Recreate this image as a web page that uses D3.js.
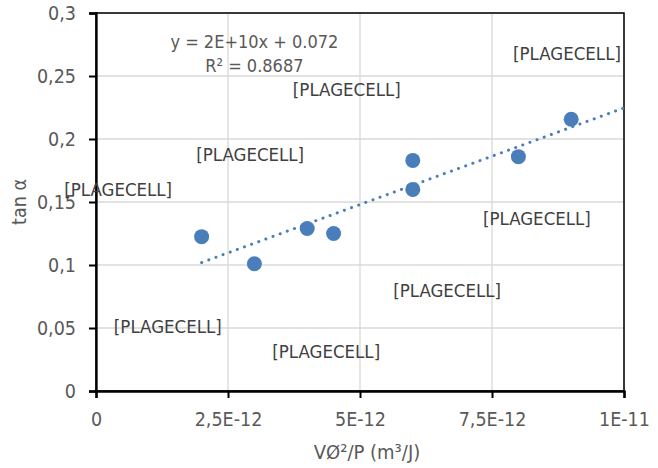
<!DOCTYPE html>
<html>
<head>
<meta charset="utf-8">
<script src="https://cdn.jsdelivr.net/npm/d3@7"></script>
<style>
  body { margin: 0; background: #fff; }
  text { font-family: "Liberation Sans Narrow", "DejaVu Sans Condensed", "Liberation Sans", sans-serif; }
</style>
</head>
<body>
<div id="chart"></div>
<script>
// Nuage de points tan α vs VØ²/P, avec courbe de tendance linéaire (pointillés)
const xVals = [2e-12, 3e-12, 4e-12, 4.5e-12, 6e-12, 6e-12, 8e-12, 9e-12];
const yVals = [0.1225, 0.101, 0.129, 0.125, 0.183, 0.160, 0.186, 0.2157];

const xTicks = [0, 2.5e-12, 5e-12, 7.5e-12, 1e-11];
const xTickLabels = ["0", "2,5E-12", "5E-12", "7,5E-12", "1E-11"];
const yTicks = [0, 0.05, 0.1, 0.15, 0.2, 0.25, 0.3];
const yTickLabels = ["0", "0,05", "0,1", "0,15", "0,2", "0,25", "0,3"];

// étiquettes de données (référence cassée -> "[PLAGECELL]")
const labelText = "[PLAGECELL]";
const labelX = [8.92e-12, 4.75e-12, 2.92e-12, 0.42e-12, 8.35e-12, 6.65e-12, 1.36e-12, 4.36e-12];
const labelY = [0.2675, 0.2395, 0.1875, 0.1603, 0.1373, 0.0794, 0.0512, 0.0317];

const eqLines = ["y = 2E+10x + 0.072", "R² = 0.8687"];
const eqX = 3e-12;
const eqY = [0.277, 0.2587];

const trendRange = [2e-12, 1e-11];

const W = 658, H = 468;
const margin = { top: 13, right: 34, bottom: 77, left: 96 };
const iw = W - margin.left - margin.right;
const ih = H - margin.top - margin.bottom;

const svg = d3.select("#chart").append("svg").attr("width", W).attr("height", H);
const g = svg.append("g").attr("transform", `translate(${margin.left},${margin.top})`);

const x = d3.scaleLinear().domain([0, 1e-11]).range([0, iw]);
const y = d3.scaleLinear().domain([0, 0.3]).range([ih, 0]);

// grille
g.append("g").selectAll("line").data(yTicks.slice(1)).join("line")
  .attr("x1", 0).attr("x2", iw)
  .attr("y1", d => y(d)).attr("y2", d => y(d))
  .attr("stroke", "#d9d9d9").attr("stroke-width", 1.3);
g.append("g").selectAll("line").data(xTicks.slice(1)).join("line")
  .attr("y1", 0).attr("y2", ih)
  .attr("x1", d => x(d)).attr("x2", d => x(d))
  .attr("stroke", "#d9d9d9").attr("stroke-width", 1.3);

// cadre haut / droite
g.append("rect").attr("x", 0).attr("y", 0).attr("width", iw).attr("height", ih)
  .attr("fill", "none").attr("stroke", "#000").attr("stroke-width", 1.5);

// axes
const fmtX = (d, i) => xTickLabels[i];
const fmtY = (d, i) => yTickLabels[i];
const gx = g.append("g").attr("transform", `translate(0,${ih})`)
  .call(d3.axisBottom(x).tickValues(xTicks).tickFormat(fmtX).tickSizeOuter(0).tickSize(7).tickPadding(14));
const gy = g.append("g")
  .call(d3.axisLeft(y).tickValues(yTicks).tickFormat(fmtY).tickSizeOuter(0).tickSize(7).tickPadding(13));
[gx, gy].forEach(a => {
  a.select(".domain").attr("stroke", "#000").attr("stroke-width", 2.3);
  a.selectAll(".tick line").attr("stroke", "#000").attr("stroke-width", 2);
  a.selectAll(".tick text").attr("fill", "#595959").attr("font-size", 19.5);
});

// tendance linéaire (moindres carrés)
const mx = d3.mean(xVals), my = d3.mean(yVals);
const sxy = d3.sum(xVals, (v, i) => (v - mx) * (yVals[i] - my));
const sxx = d3.sum(xVals, v => (v - mx) * (v - mx));
const slope = sxy / sxx, icpt = my - slope * mx;
g.append("line")
  .attr("x1", x(trendRange[0])).attr("y1", y(icpt + slope * trendRange[0]))
  .attr("x2", x(trendRange[1])).attr("y2", y(icpt + slope * trendRange[1]))
  .attr("stroke", "#4a7ebb").attr("stroke-width", 3)
  .attr("stroke-linecap", "round").attr("stroke-dasharray", "0.1 7.5");

// points
g.append("g").selectAll("circle").data(xVals).join("circle")
  .attr("cx", d => x(d)).attr("cy", (d, i) => y(yVals[i]))
  .attr("r", 7.5).attr("fill", "#4a7ebb");

// étiquettes
g.append("g").selectAll("text").data(labelX).join("text")
  .attr("x", d => x(d)).attr("y", (d, i) => y(labelY[i]))
  .attr("text-anchor", "middle").attr("dominant-baseline", "central")
  .attr("fill", "#404040").attr("font-size", 18.5).text(labelText);

g.append("g").selectAll("text").data(eqLines).join("text")
  .attr("x", x(eqX)).attr("y", (d, i) => y(eqY[i]))
  .attr("text-anchor", "middle").attr("dominant-baseline", "central")
  .attr("fill", "#595959").attr("font-size", 18).text(d => d);

// titres des axes
svg.append("text")
  .attr("transform", `translate(19,202) rotate(-90)`)
  .attr("text-anchor", "middle").attr("dominant-baseline", "central")
  .attr("fill", "#595959").attr("font-size", 19.5).text("tan α");
svg.append("text")
  .attr("x", 367).attr("y", 452)
  .attr("text-anchor", "middle").attr("dominant-baseline", "central")
  .attr("fill", "#595959").attr("font-size", 20).text("VØ²/P (m³/J)");
</script>
</body>
</html>
